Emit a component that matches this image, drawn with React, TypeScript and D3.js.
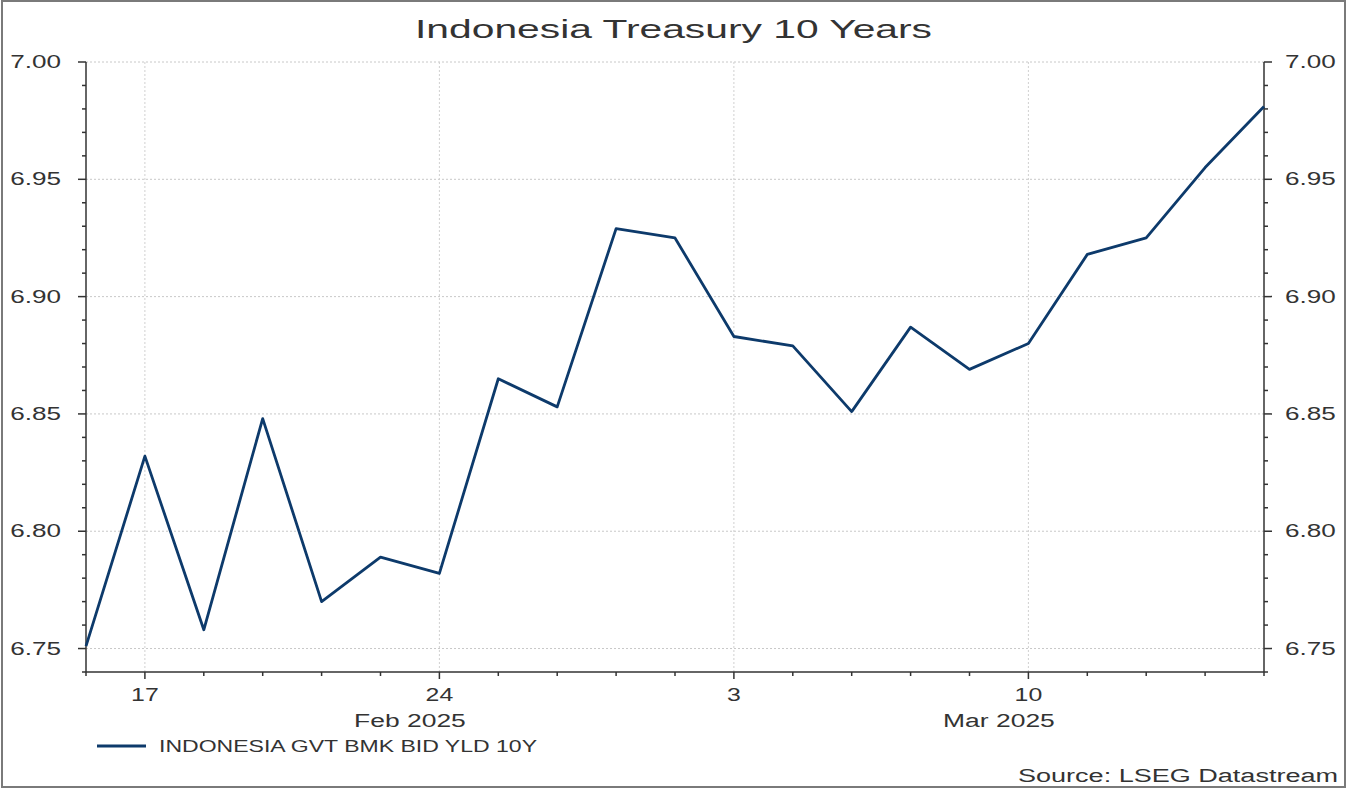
import React from "react";
import * as d3 from "d3";

const dates = [
  "2025-02-14", "2025-02-17", "2025-02-18", "2025-02-19", "2025-02-20", "2025-02-21",
  "2025-02-24", "2025-02-25", "2025-02-26", "2025-02-27", "2025-02-28",
  "2025-03-03", "2025-03-04", "2025-03-05", "2025-03-06", "2025-03-07",
  "2025-03-10", "2025-03-11", "2025-03-12", "2025-03-13", "2025-03-14",
];
const yields = [
  6.751, 6.832, 6.758, 6.848, 6.770, 6.789,
  6.782, 6.865, 6.853, 6.929, 6.925,
  6.883, 6.879, 6.851, 6.887, 6.869,
  6.880, 6.918, 6.925, 6.955, 6.981,
];
const yTicks = [6.75, 6.8, 6.85, 6.9, 6.95, 7.0];
const majorDays = ["2025-02-17", "2025-02-24", "2025-03-03", "2025-03-10"];
const majorLabels = ["17", "24", "3", "10"];
const monthLabels = ["Feb 2025", "Mar 2025"];
const monthStarts = ["2025-02-14", "2025-03-03"];
const title = "Indonesia Treasury 10 Years";
const seriesName = "INDONESIA GVT BMK BID YLD 10Y";
const source = "Source: LSEG Datastream";

const W = 1347, H = 789;
const L = 86, R = 1264, T = 62, B = 672;
const FONT = "'Liberation Sans', Arial, sans-serif";
const TXT = "#333";
const LINE = "#0d3a6b";

function SText(props: {
  x: number; y: number; sx: number; size: number; anchor?: string; children: React.ReactNode;
}) {
  const { x, y, sx, size, anchor = "start", children } = props;
  return (
    <text
      transform={`translate(${x},${y}) scale(${sx},1)`}
      textAnchor={anchor}
      fontSize={size}
      fill={TXT}
    >
      {children}
    </text>
  );
}

export default function App() {
  const x = d3.scaleLinear().domain([0, dates.length - 1]).range([L, R]);
  const y = d3.scaleLinear().domain([6.74, 7.0]).range([B, T]);
  const minor = d3.range(6.74, 7.0001, 0.01).map((v) => +v.toFixed(2));
  const line = d3
    .line<number>()
    .x((_, i) => x(i))
    .y((d) => y(d));
  const idx = (d: string) => dates.indexOf(d);
  const monthCenters = monthStarts.map((s, k) => {
    const a = x(idx(s));
    const b = k + 1 < monthStarts.length ? x(idx(monthStarts[k + 1])) : R;
    return (a + b) / 2;
  });

  return (
    <svg
      width={W}
      height={H}
      style={{ position: "absolute", left: 0, top: 0, background: "#fff" }}
      fontFamily={FONT}
    >
      <rect x={2} y={1} width={W - 4} height={H - 3} fill="#fff" stroke="#7a7a7a" strokeWidth={2} />
      <text
        x={673.5}
        y={38}
        textAnchor="middle"
        fontSize={26}
        fill={TXT}
        textLength={517}
        lengthAdjust="spacingAndGlyphs"
      >
        {title}
      </text>

      {/* grid */}
      {yTicks.map((t) => (
        <line key={"gy" + t} x1={L} x2={R} y1={y(t)} y2={y(t)} stroke="#c8c8c8" strokeDasharray="2,2" />
      ))}
      {majorDays.map((d) => (
        <line key={"gx" + d} x1={x(idx(d))} x2={x(idx(d))} y1={T} y2={B} stroke="#d0d0d0" strokeDasharray="2,2" />
      ))}

      {/* axes */}
      <line x1={L} x2={L} y1={T} y2={B} stroke="#333" strokeWidth={1.5} />
      <line x1={R} x2={R} y1={T} y2={B} stroke="#333" strokeWidth={1.5} />
      <line x1={L} x2={R} y1={B} y2={B} stroke="#333" strokeWidth={1.5} />
      {minor.map((t) => {
        const major = yTicks.some((m) => Math.abs(m - t) < 1e-6);
        const len = major ? 8 : 4;
        return (
          <g key={"ty" + t}>
            <line x1={L - len} x2={L} y1={y(t)} y2={y(t)} stroke="#333" strokeWidth={1.5} />
            <line x1={R} x2={R + len} y1={y(t)} y2={y(t)} stroke="#333" strokeWidth={1.5} />
          </g>
        );
      })}
      {yTicks.map((t) => (
        <g key={"yl" + t}>
          <SText x={61} y={y(t) + 6} sx={1.45} size={18} anchor="end">
            {d3.format(".2f")(t)}
          </SText>
          <SText x={1285} y={y(t) + 6} sx={1.45} size={18} anchor="start">
            {d3.format(".2f")(t)}
          </SText>
        </g>
      ))}
      {dates.map((d, i) => {
        const major = majorDays.includes(d);
        return (
          <line key={"tx" + d} x1={x(i)} x2={x(i)} y1={B} y2={B + (major ? 7 : 4)} stroke="#333" strokeWidth={1.5} />
        );
      })}
      {majorDays.map((d, k) => (
        <SText key={"xl" + d} x={x(idx(d))} y={701} sx={1.38} size={18} anchor="middle">
          {majorLabels[k]}
        </SText>
      ))}
      {monthLabels.map((m, k) => (
        <SText key={m} x={monthCenters[k]} y={727} sx={1.47} size={18} anchor="middle">
          {m}
        </SText>
      ))}

      {/* series */}
      <path d={line(yields) || ""} fill="none" stroke={LINE} strokeWidth={2.8} strokeLinejoin="round" />

      {/* legend */}
      <line x1={97} x2={146} y1={746} y2={746} stroke={LINE} strokeWidth={2.8} />
      <text x={159} y={752} fontSize={17} fill={TXT} textLength={378} lengthAdjust="spacingAndGlyphs">
        {seriesName}
      </text>
      <text x={1018} y={782} fontSize={18} fill={TXT} textLength={320} lengthAdjust="spacingAndGlyphs">
        {source}
      </text>
    </svg>
  );
}
